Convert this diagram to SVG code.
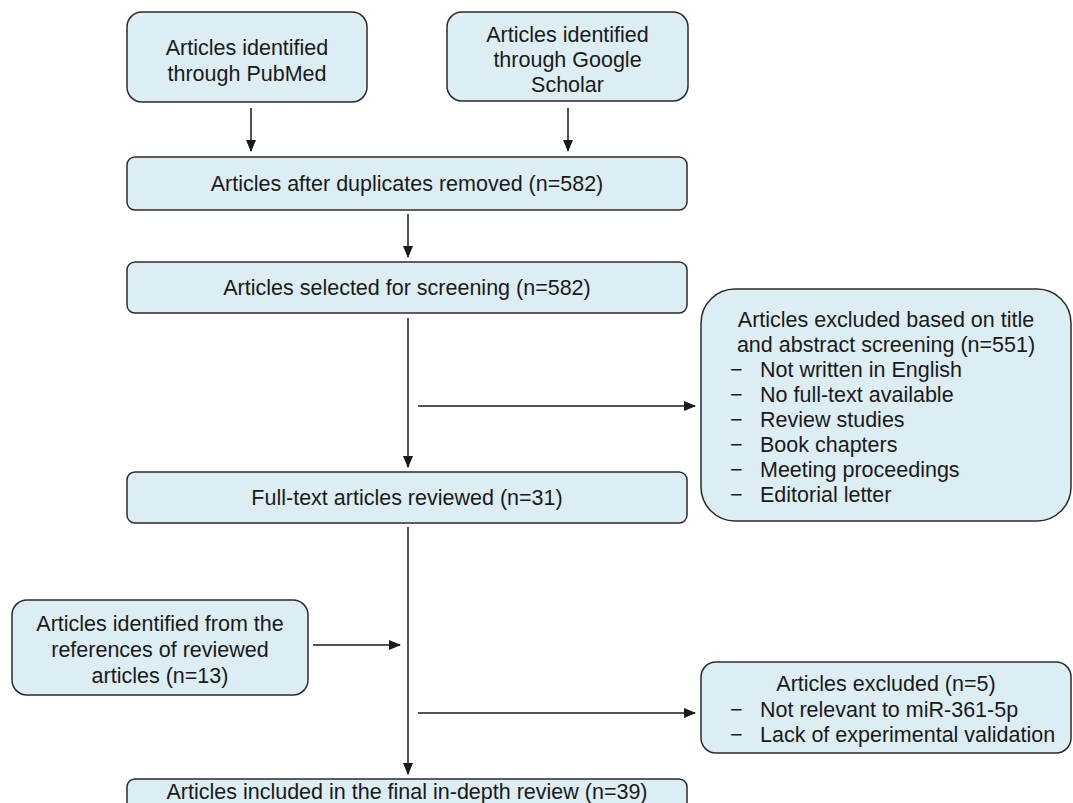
<svg xmlns="http://www.w3.org/2000/svg" width="1073" height="803" viewBox="0 0 1073 803">
<defs>
<style>
.box{fill:#dcedf3;stroke:#2b2b2b;stroke-width:1.5}
text{font-family:"Liberation Sans",Arial,sans-serif;font-size:21.5px;fill:#1a1a1a}
.c{text-anchor:middle}
.ln{stroke:#1a1a1a;stroke-width:1.5;fill:none}
</style>
<marker id="ah" markerWidth="12" markerHeight="10" refX="11" refY="5" orient="auto" markerUnits="userSpaceOnUse">
<path d="M0,0 L12,5 L0,10 Z" fill="#1a1a1a"/>
</marker>
</defs>
<rect width="1073" height="803" fill="#ffffff"/>
<g id="connectors">
<line class="ln" x1="251" y1="108" x2="251" y2="151" marker-end="url(#ah)"/>
<line class="ln" x1="568" y1="108" x2="568" y2="151" marker-end="url(#ah)"/>
<line class="ln" x1="408" y1="214" x2="408" y2="257" marker-end="url(#ah)"/>
<line class="ln" x1="408" y1="318" x2="408" y2="467" marker-end="url(#ah)"/>
<line class="ln" x1="418" y1="406" x2="695" y2="406" marker-end="url(#ah)"/>
<line class="ln" x1="408" y1="527" x2="408" y2="774" marker-end="url(#ah)"/>
<line class="ln" x1="313" y1="645" x2="400" y2="645" marker-end="url(#ah)"/>
<line class="ln" x1="418" y1="713" x2="695" y2="713" marker-end="url(#ah)"/>
</g>
<g id="n-pubmed">
<rect class="box" x="127" y="12" width="240" height="90" rx="15"/>
<text class="c" x="247" y="55">Articles identified</text>
<text class="c" x="247" y="81">through PubMed</text>
</g>
<g id="n-scholar">
<rect class="box" x="447" y="12" width="241" height="89" rx="15"/>
<text class="c" x="567.5" y="42">Articles identified</text>
<text class="c" x="567.5" y="67">through Google</text>
<text class="c" x="567.5" y="92">Scholar</text>
</g>
<g id="n-dup">
<rect class="box" x="127" y="157" width="560" height="53" rx="8"/>
<text class="c" x="407" y="191">Articles after duplicates removed (n=582)</text>
</g>
<g id="n-screen">
<rect class="box" x="127" y="262" width="560" height="51" rx="8"/>
<text class="c" x="407" y="295">Articles selected for screening (n=582)</text>
</g>
<g id="n-excl1">
<rect class="box" x="701" y="289" width="370" height="232" rx="34"/>
<text class="c" x="886" y="327">Articles excluded based on title</text>
<text class="c" x="886" y="352">and abstract screening (n=551)</text>
<text x="730" y="377">−</text><text x="760" y="377">Not written in English</text>
<text x="730" y="402">−</text><text x="760" y="402">No full-text available</text>
<text x="730" y="427">−</text><text x="760" y="427">Review studies</text>
<text x="730" y="452">−</text><text x="760" y="452">Book chapters</text>
<text x="730" y="477">−</text><text x="760" y="477">Meeting proceedings</text>
<text x="730" y="502">−</text><text x="760" y="502">Editorial letter</text>
</g>
<g id="n-full">
<rect class="box" x="127" y="472" width="560" height="51" rx="8"/>
<text class="c" x="407" y="505">Full-text articles reviewed (n=31)</text>
</g>
<g id="n-refs">
<rect class="box" x="12" y="600" width="296" height="95" rx="15"/>
<text class="c" x="160" y="631">Articles identified from the</text>
<text class="c" x="160" y="657">references of reviewed</text>
<text class="c" x="160" y="683">articles (n=13)</text>
</g>
<g id="n-excl2">
<rect class="box" x="701" y="662" width="370" height="91" rx="15"/>
<text class="c" x="886" y="691">Articles excluded (n=5)</text>
<text x="730" y="717">−</text><text x="760" y="717">Not relevant to miR-361-5p</text>
<text x="730" y="742">−</text><text x="760" y="742">Lack of experimental validation</text>
</g>
<g id="n-final">
<rect class="box" x="127" y="779" width="560" height="40" rx="8"/>
<text class="c" x="407" y="799">Articles included in the final in-depth review (n=39)</text>
</g>
</svg>
